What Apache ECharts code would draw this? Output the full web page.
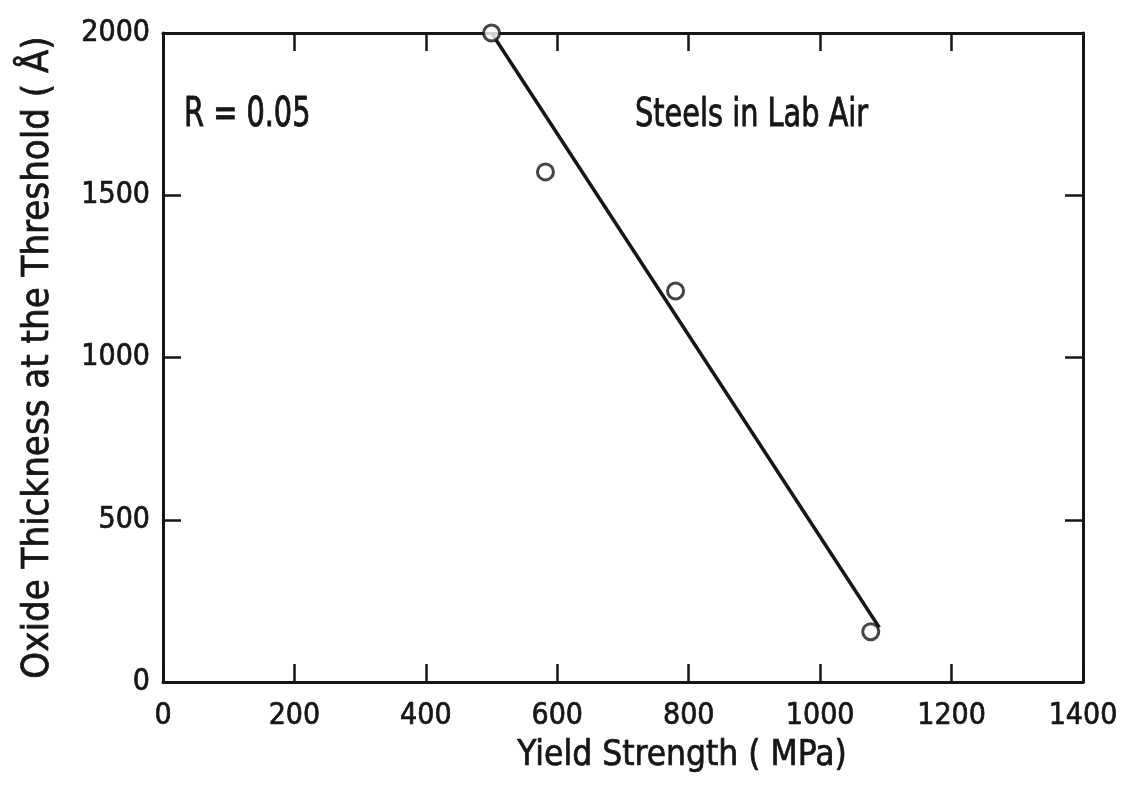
<!DOCTYPE html>
<html>
<head>
<meta charset="utf-8">
<script src="https://cdn.jsdelivr.net/npm/echarts@6/dist/echarts.min.js"></script>
<style>html,body{margin:0;padding:0;background:#fff;}#c{width:1130px;height:789px;}</style>
</head>
<body>
<div id="c"></div>
<script>
// Data
const yieldStrength = [500, 582, 780, 1077];
const oxideThickness = [2000, 1572, 1205, 155];
const fitLineX = [500, 1090];
const fitLineY = [2000, 168];
const xTicks = [0, 200, 400, 600, 800, 1000, 1200, 1400];
const yTicks = [0, 500, 1000, 1500, 2000];
const xTitle = 'Yield Strength ( MPa)';
const yTitle = 'Oxide Thickness at the Threshold ( Å)';
const noteR = 'R = 0.05';
const noteSteel = 'Steels in Lab Air';

const FONT = '"DejaVu Sans Condensed", "DejaVu Sans", sans-serif';
const INK = '#161616';
const heavy = {textBorderColor: INK, textBorderWidth: 0.7};

const chart = echarts.init(document.getElementById('c'));
const axisLine = {show: true, onZero: false, lineStyle: {color: INK, width: 3}};
const axisTick = {show: true, inside: true, length: 18, lineStyle: {color: INK, width: 2.5}};
const plain = v => String(v);
chart.setOption({
  backgroundColor: '#fff',
  animation: false,
  grid: {left: 163, right: 47, top: 33, bottom: 107, outerBoundsMode: 'none', containLabel: false},
  xAxis: [{
    type: 'value', min: xTicks[0], max: xTicks[xTicks.length - 1], interval: 200, position: 'bottom',
    axisLine: axisLine, axisTick: axisTick, splitLine: {show: false},
    axisLabel: Object.assign({color: INK, fontFamily: FONT, fontSize: 30, margin: 19, formatter: plain}, heavy),
    name: xTitle, nameLocation: 'middle', nameGap: 56,
    nameTextStyle: Object.assign({color: INK, fontFamily: FONT, fontSize: 35, padding: [0, 0, 0, 118]}, heavy)
  }, {
    type: 'value', min: xTicks[0], max: xTicks[xTicks.length - 1], interval: 200, position: 'top',
    axisLine: axisLine, axisTick: axisTick, splitLine: {show: false},
    axisLabel: {show: false}
  }],
  yAxis: [{
    type: 'value', min: yTicks[0], max: yTicks[yTicks.length - 1], interval: 500, position: 'left',
    axisLine: axisLine, axisTick: axisTick, splitLine: {show: false},
    axisLabel: Object.assign({color: INK, fontFamily: FONT, fontSize: 30, margin: 13, formatter: plain}, heavy),
    name: yTitle, nameLocation: 'middle', nameGap: 106, nameRotate: 90,
    nameTextStyle: Object.assign({color: INK, fontFamily: FONT, fontSize: 38}, heavy)
  }, {
    type: 'value', min: yTicks[0], max: yTicks[yTicks.length - 1], interval: 500, position: 'right',
    axisLine: axisLine, axisTick: axisTick, splitLine: {show: false},
    axisLabel: {show: false}
  }],
  series: [{
    type: 'line',
    data: fitLineX.map((x, i) => [x, fitLineY[i]]),
    symbol: 'none',
    lineStyle: {color: INK, width: 3.5},
    z: 2
  }, {
    type: 'scatter',
    data: yieldStrength.map((x, i) => [x, oxideThickness[i]]),
    symbol: 'circle', symbolSize: 16,
    itemStyle: {color: '#fff', borderColor: INK, borderWidth: 3},
    z: 3
  }],
  graphic: [{
    type: 'text', x: 184, y: 96, scaleY: 1.25,
    style: {text: noteR, fill: INK, stroke: INK, lineWidth: 0.7, font: '32px ' + FONT, verticalAlign: 'top'}
  }, {
    type: 'text', x: 635, y: 97, scaleY: 1.2,
    style: {text: noteSteel, fill: INK, stroke: INK, lineWidth: 0.7, font: '32px ' + FONT, verticalAlign: 'top'}
  }]
});
</script>
</body>
</html>
